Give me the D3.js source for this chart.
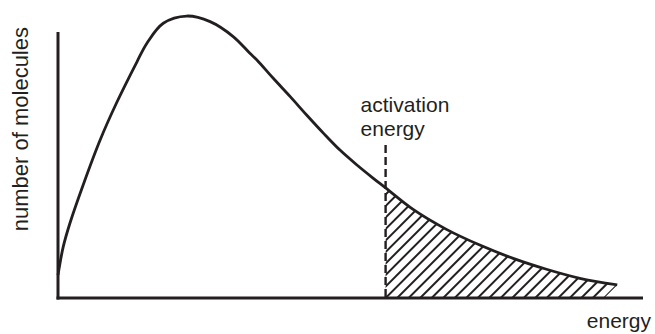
<!DOCTYPE html>
<html>
<head>
<meta charset="utf-8">
<script src="https://cdn.jsdelivr.net/npm/d3@7"></script>
<style>
  html, body { margin: 0; padding: 0; background: #fff; }
  svg { display: block; }
  text { font-family: "Liberation Sans", Arial, Helvetica, sans-serif; fill: #231f20; }
</style>
</head>
<body>
<svg id="chart" width="655" height="334"></svg>
<script>
// ---- data ----
const energy = [0, 0.9, 2.05, 4.3, 7.2, 10.0, 13.5, 15.2, 18.0, 22.0, 26.0, 30.0, 32.8, 34.0, 36.8,
  39.7, 42.5, 45.4, 48.2, 51.1, 53.9, 56.0, 60.7, 66.4, 72.1, 77.8, 83.5, 89.2, 95.6];
const molecules = [8.6, 19.3, 28.2, 42.5, 59.4, 73.3, 88.8, 95.8, 103.3, 106.0, 103.9, 98.2, 92.0, 89.5, 82.6,
  75.7, 68.8, 61.9, 55.6, 50.0, 45.0, 41.4, 33.3, 25.8, 19.9, 14.9, 10.8, 7.4, 4.9];
const activationEnergy = 56.0;
const activationLineTop = 57.5;
const activationLabel = ["activation", "energy"];
const xLabel = "energy";
const yLabel = "number of molecules";

// ---- layout ----
const ink = "#231f20";
const svg = d3.select("#chart");
const x = d3.scaleLinear().domain([0, 100]).range([58, 643]);
const y = d3.scaleLinear().domain([0, 100]).range([298, 32]);

const pts = energy.map((e, i) => [e, molecules[i]]);

// axes (plain lines, no ticks)
svg.append("line")
  .attr("x1", x(0)).attr("x2", x(0))
  .attr("y1", y(100)).attr("y2", y(0) + 1.5)
  .attr("stroke", ink).attr("stroke-width", 3);
svg.append("line")
  .attr("x1", x(0) - 1.5).attr("x2", x(100))
  .attr("y1", y(0)).attr("y2", y(0))
  .attr("stroke", ink).attr("stroke-width", 3);

// hatched region beyond activation energy
const tail = pts.filter(p => p[0] >= activationEnergy);
const lineGen = d3.line().x(p => x(p[0])).y(p => y(p[1])).curve(d3.curveCatmullRom.alpha(0.5));
const last = tail[tail.length - 1];
const xThr = x(activationEnergy);
const xEnd = x(last[0]), yEnd = y(last[1]), y0 = y(0);
const yThr = y(tail[0][1]);
const clipD = lineGen(tail) + `L${xEnd - (y0 - yEnd)},${y0}L${xThr},${y0}Z`;
svg.append("clipPath").attr("id", "tailClip").append("path").attr("d", clipD);

const spacing = 11.47;
const cCorner = xThr + y0;
const cEnd = xEnd + yEnd;
const nRight = Math.round((cEnd - cCorner) / spacing);
const step = (cEnd - cCorner) / nRight;
const nLeft = Math.ceil((y0 - yThr) / step) + 1;
const hatch = d3.range(-nLeft, nRight + 1).map(i => cCorner + i * step);
const yTop = yThr - 20;
svg.append("g").attr("clip-path", "url(#tailClip)")
  .selectAll("line").data(hatch).join("line")
  .attr("x1", c => c - y0 - 4).attr("y1", y0 + 4)
  .attr("x2", c => c - yTop).attr("y2", yTop)
  .attr("stroke", ink).attr("stroke-width", 2);

// curve
svg.append("path")
  .attr("d", lineGen(pts))
  .attr("fill", "none").attr("stroke", ink).attr("stroke-width", 2.8)
  .attr("stroke-linejoin", "round");

// activation energy dashed line
svg.append("line")
  .attr("x1", xThr).attr("x2", xThr)
  .attr("y1", y(activationLineTop)).attr("y2", y(0))
  .attr("stroke", ink).attr("stroke-width", 2.4)
  .attr("stroke-dasharray", "8,4");

// activation label
svg.append("text")
  .attr("x", xThr - 25).attr("y", 111.5)
  .attr("font-size", 21)
  .selectAll("tspan").data(activationLabel).join("tspan")
  .attr("x", xThr - 25)
  .attr("dy", (d, i) => i === 0 ? 0 : 24)
  .text(d => d);

// axis labels
svg.append("text")
  .attr("x", 651).attr("y", 328)
  .attr("text-anchor", "end").attr("font-size", 21)
  .text(xLabel);
svg.append("text")
  .attr("transform", "translate(28,27) rotate(-90)")
  .attr("text-anchor", "end").attr("font-size", 22)
  .text(yLabel);
</script>
</body>
</html>
